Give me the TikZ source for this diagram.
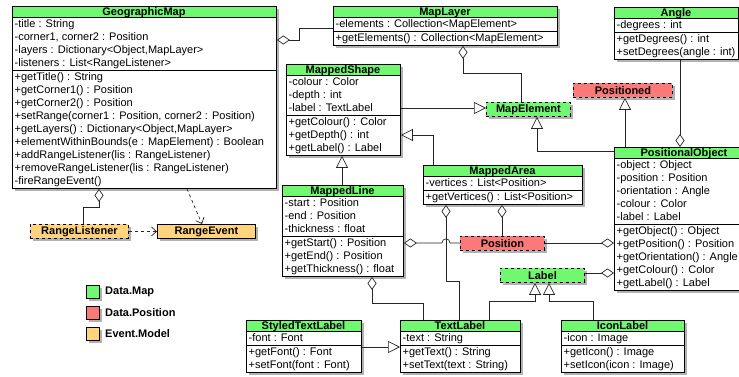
\documentclass[tikz,border=0pt]{standalone}
\usepackage{fontspec}
\setmainfont{Liberation Sans}
\usetikzlibrary{arrows.meta,shadows}
\definecolor{mapgreen}{RGB}{112,248,112}
\definecolor{posred}{RGB}{250,122,122}
\definecolor{evorange}{RGB}{255,212,125}
\tikzset{
  shadowed/.style={drop shadow={shadow xshift=2.5pt,shadow yshift=-3pt,opacity=0.3,fill=black}},
  classbox/.style={draw, fill=white, shadowed, inner sep=0pt, line width=0.9pt},
  classtitle/.style={font=\fontsize{11}{13}\selectfont\bfseries, inner sep=0pt, anchor=base},
  classrow/.style={font=\fontsize{11}{13}\selectfont, inner sep=0pt, anchor=base west},
  tagbox/.style={draw, dashed, inner sep=0pt, shadowed, line width=0.9pt, anchor=north west,
    font=\fontsize{11}{13}\selectfont\bfseries},
  solidtag/.style={draw, inner sep=0pt, shadowed, line width=0.9pt, anchor=north west,
    font=\fontsize{11}{13}\selectfont\bfseries},
  legbox/.style={draw, inner sep=0pt, shadowed, line width=0.8pt, minimum size=13, anchor=north west},
  legtext/.style={font=\fontsize{11}{13}\selectfont\bfseries, inner sep=0pt, anchor=west},
  conn/.style={line width=0.7pt, draw=black!85},
  agg/.style={conn, {Diamond[length=13pt,width=9pt,fill=white]}-},
  gen/.style={conn, -{Triangle[length=12pt,width=12pt,fill=white]}},
  dep/.style={conn, dashed, -{Straight Barb[length=5pt,width=9pt]}},
}
\newcommand\umlclass[9]{%
  \pgfmathsetmacro\ya{#3+11}%
  \pgfmathsetmacro\yb{\ya+13*#6+1}%
  \pgfmathsetmacro\yc{\yb+13*#8+1}%
  \pgfmathsetmacro\hh{\yc-#3}%
  \node[classbox, minimum width=#4, minimum height=\hh, anchor=north west] (#1) at (#2,#3) {};
  \fill[mapgreen] (#2,#3) rectangle ++(#4,11);
  \draw[line width=0.9pt] (#2,\ya) -- ++(#4,0) (#2,\yb) -- ++(#4,0);
  \draw[line width=0.9pt] (#1.north west) rectangle (#1.south east);
  \node[classtitle] (#1-t) at (#2+#4/2,#3+9.5) {#5};
  \foreach \rowtext [count=\i] in {#7} {\node[classrow] (#1-a\i) at (#2+2.5,\ya+13*\i-2.6) {\rowtext};}
  \foreach \rowtext [count=\i] in {#9} {\node[classrow] (#1-m\i) at (#2+2.5,\yb+13*\i-2.6) {\rowtext};}
}
\begin{document}
\begin{tikzpicture}[x=1pt,y=-1pt]
\useasboundingbox (0,0) rectangle (739,377);

\umlclass{gm}{12}{6}{264}{GeographicMap}{4}{{-title : String},{-corner1, corner2 : Position},{-layers : Dictionary<Object,MapLayer>},{-listeners : List<RangeListener>}}{9}{{+getTitle() : String},{+getCorner1() : Position},{+getCorner2() : Position},{+setRange(corner1 : Position, corner2 : Position)},{+getLayers() : Dictionary<Object,MapLayer>},{+elementWithinBounds(e : MapElement) : Boolean},{+addRangeListener(lis : RangeListener)},{+removeRangeListener(lis : RangeListener)},{-fireRangeEvent()}}

\umlclass{layer}{333}{6}{224}{MapLayer}{1}{{-elements : Collection<MapElement>}}{1}{{+getElements() : Collection<MapElement>}}

\umlclass{angle}{614}{7}{124}{Angle}{1}{{-degrees : int}}{2}{{+getDegrees() : int},{+setDegrees(angle : int)}}

\umlclass{shape}{286}{64}{114}{MappedShape}{3}{{-colour : Color},{-depth : int},{-label : TextLabel}}{3}{{+getColour() : Color},{+getDepth() : int},{+getLabel() : Label}}

\umlclass{area}{423}{165}{159}{MappedArea}{1}{{-vertices : List<Position>}}{1}{{+getVertices() : List<Position>}}

\umlclass{line}{282}{185}{121}{MappedLine}{3}{{-start : Position},{-end : Position},{-thickness : float}}{3}{{+getStart() : Position},{+getEnd() : Position},{+getThickness() : float}}

\umlclass{po}{614}{147}{140}{PositionalObject}{5}{{-object : Object},{-position : Position},{-orientation : Angle},{-colour : Color},{-label : Label}}{5}{{+getObject() : Object},{+getPosition() : Position},{+getOrientation() : Angle},{+getColour() : Color},{+getLabel() : Label}}

\umlclass{styled}{246}{320}{115}{StyledTextLabel}{1}{{-font : Font}}{2}{{+getFont() : Font},{+setFont(font : Font)}}

\umlclass{text}{400}{320}{120}{TextLabel}{1}{{-text : String}}{2}{{+getText() : String},{+setText(text : String)}}

\umlclass{icon}{561}{320}{123}{IconLabel}{1}{{-icon : Image}}{2}{{+getIcon() : Image},{+setIcon(icon : Image)}}

% interface-like tags
\node[tagbox, fill=mapgreen, minimum width=84, minimum height=14] (mapel) at (486,102) {MapElement};
\node[tagbox, fill=posred, minimum width=99, minimum height=14] (positioned) at (573,83) {Positioned};
\node[tagbox, fill=posred, minimum width=84, minimum height=14] (position) at (460,236) {Position};
\node[tagbox, fill=mapgreen, minimum width=84, minimum height=14] (label) at (500,268) {Label};
\node[tagbox, fill=evorange, minimum width=98, minimum height=14] (rl) at (30,224) {RangeListener};
\node[solidtag, fill=evorange, minimum width=98, minimum height=14] (re) at (157,224) {RangeEvent};

% legend
\node[legbox, fill=mapgreen] (lg1) at (86,285) {};
\node[legbox, fill=posred] (lg2) at (86,306) {};
\node[legbox, fill=evorange] (lg3) at (86,327) {};
\node[legtext] (lt1) at (105,291.5) {Data.Map};
\node[legtext] (lt2) at (105,312.5) {Data.Position};
\node[legtext] (lt3) at (105,333.5) {Event.Model};

% connectors
\draw[agg] (gm.east |- 0,40) -- (299,40) |- (layer.west |- 0,28);
\draw[agg] (layer.south -| 463,0) -- (463,73) -| (mapel.north -| 521,0);
\draw[gen] (shape.east |- 0,108) -- (mapel.west |- 0,108);
\draw[gen] (po.west |- 0,151) -| (mapel.south -| 537,0);
\draw[gen] (po.north -| 625,0) -- (positioned.south -| 625,0);
\draw[agg] (po.north -| 680,0) -- (angle.south -| 680,0);
\draw[gen] (area.north -| 433,0) |- (shape.east |- 0,135);
\draw[gen] (line.north -| 342,0) -- (shape.south -| 342,0);
\draw[agg] (line.east |- 0,243) -- (442,243) .. controls (442,237.5) and (450,237.5) .. (450,243) -- (position.west |- 0,243);
\draw[agg] (po.west |- 0,243) -- (position.east |- 0,243);
\draw[agg] (area.south -| 502,0) -- (position.north -| 502,0);
\draw[agg] (area.south -| 446,0) -- (446,281) -| (text.north -| 459,0);
\draw[agg] (line.south -| 372,0) -- (372,303) -| (text.north -| 423,0);
\draw[agg] (po.west |- 0,273) -- (label.east |- 0,273);
\draw[gen] (text.north -| 489,0) |- (535,301) -- (label.south -| 535,0);
\draw[gen] (icon.north -| 593,0) |- (549,301) -- (label.south -| 549,0);
\draw[gen] (styled.east |- 0,347) -- (text.west |- 0,347);
\draw[agg] (gm.south -| 99,0) -- (99,207) -| (rl.north -| 83,0);
\draw[dep] (rl.east) -- (re.west);
\draw[dep] (gm.south -| 187,0) -- (re.north -| 202,0);
\end{tikzpicture}
\end{document}
